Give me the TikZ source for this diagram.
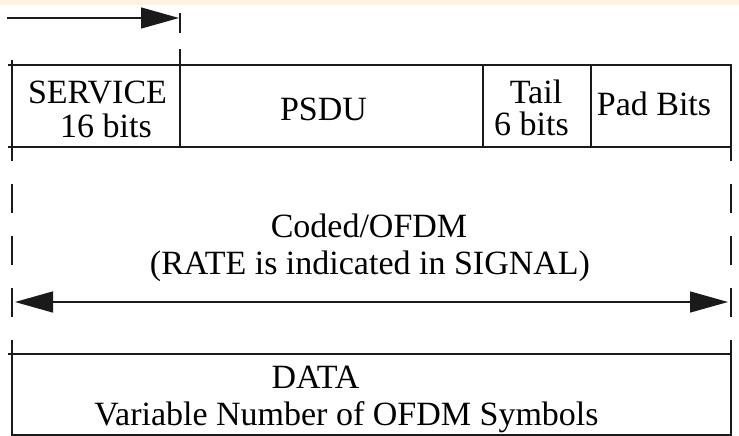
\documentclass[tikz,border=0pt]{standalone}
\usepackage{fontspec}
\setmainfont{Liberation Serif}
\usetikzlibrary{arrows.meta}
\definecolor{cream}{HTML}{FDF3E0}
\definecolor{ink}{HTML}{1A1A1A}
\begin{document}
\begin{tikzpicture}[x=1pt,y=-1pt,
  field/.style={draw=ink,line width=1.6pt,minimum height=82pt,inner sep=0pt,outer sep=0pt,anchor=north west},
  lbl/.style={font=\fontsize{34}{37}\selectfont,anchor=base,inner sep=0pt,text=black},
  guide/.style={draw=ink,line width=1.2pt,dash pattern=on 29pt off 23pt},
  dimarrow/.style={draw=ink,line width=1.4pt,-{Triangle[length=38pt,width=21pt]}},
  dimboth/.style={draw=ink,line width=1.4pt,{Triangle[length=38pt,width=21pt]}-{Triangle[length=38pt,width=21pt]}}]
\useasboundingbox (0,0) rectangle (739,436);
\fill[cream] (0,0) rectangle (739,5);
% fields
\node[field,minimum width=168pt] (svc) at (12,65) {};
\node[field,minimum width=303pt] (psdu) at (180,65) {};
\node[field,minimum width=108pt] (tail) at (483,65) {};
\node[field,minimum width=140pt] (pad) at (591,65) {};
\node[field,minimum width=719pt,minimum height=81pt] (data) at (12,354) {};
% small overshoots of the box lines
\draw[ink,line width=1.6pt] (svc.north west) -- ++(-4,0);
\draw[ink,line width=1.6pt] (svc.south west) -- ++(-4,0);
\draw[ink,line width=1.6pt] (svc.north west) -- ++(0,-5);
\draw[ink,line width=1.6pt] (data.north west) -- ++(-4,0);
% guide lines
\coordinate (tg) at (180,13);
\draw[guide,dash pattern=on 20pt off 16pt] (tg) -- (svc.north east);
\coordinate (lg) at (12,132);
\coordinate (rg) at (731,132);
\draw[guide] (lg) -- (data.north west);
\draw[guide] (rg) -- (data.north east);
% arrows
\coordinate (a0) at (7,18);
\coordinate (a1) at (179,18);
\draw[dimarrow] (a0) -- (a1);
\coordinate (m0) at (15,302);
\coordinate (m1) at (728,302);
\draw[dimboth] (m0) -- (m1);
% labels
\node[lbl] (t1) at (97.5,103) {SERVICE};
\node[lbl] (t2) at (106,137) {16 bits};
\node[lbl] (t3) at (323.5,120) {PSDU};
\node[lbl] (t4) at (536,103) {Tail};
\node[lbl] (t5) at (531.5,135) {6 bits};
\node[lbl] (t6) at (654,115) {Pad Bits};
\node[lbl] (t7) at (369,237) {Coded/OFDM};
\node[lbl] (t8) at (370,274) {(RATE is indicated in SIGNAL)};
\node[lbl] (t9) at (315.5,388) {DATA};
\node[lbl] (t10) at (346.5,425) {Variable Number of OFDM Symbols};
\end{tikzpicture}
\end{document}
